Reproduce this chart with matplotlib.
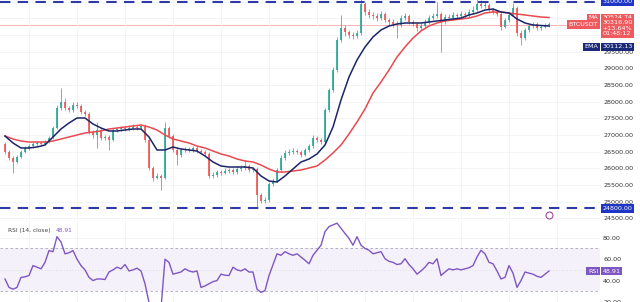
import numpy as np
import matplotlib
matplotlib.use("Agg")
import matplotlib.pyplot as plt
import matplotlib.transforms as mtrans

# BTC/USDT daily candles
first_open = 26740
closes = [26494, 26314, 26194, 26344, 26494, 26614, 26674, 26734, 26764, 26734,
          26794, 26914, 27214, 27814, 27994, 27814, 27754, 27904, 27874, 27694,
          27634, 27094, 27004, 27154, 26914, 26944, 26854, 27154, 27184, 27214,
          27184, 27214, 27244, 27214, 27274, 26854, 26014, 25714, 25774, 25714,
          27214, 26974, 26554, 26404, 26554, 26584, 26554, 26614, 26524, 26494,
          26434, 25774, 25804, 25894, 25864, 25924, 25954, 25894, 25984, 26014,
          26074, 25954, 25984, 25204, 25024, 25054, 25534, 25624, 25954, 26314,
          26464, 26494, 26524, 26494, 26404, 26554, 26674, 26914, 26854, 26794,
          27754, 28354, 28954, 29854, 30214, 30094, 30004, 29974, 30064, 30934,
          30694, 30604, 30574, 30514, 30634, 30454, 30394, 30334, 30304, 30514,
          30574, 30394, 30334, 30214, 30274, 30394, 30514, 30574, 30634, 30394,
          30544, 30514, 30604, 30574, 30634, 30604, 30694, 30754, 30934, 30874,
          30904, 30754, 30694, 30634, 30244, 30454, 30604, 30814, 30064, 29914,
          30154, 30274, 30334, 30214, 30244, 30304, 30317]
highs = [26800, 26540, 26360, 26400, 26560, 26660, 26740, 26800, 26830, 26820,
         26860, 26980, 27280, 27900, 28414, 28100, 27880, 27990, 28000, 27940,
         27760, 27680, 27160, 27400, 27200, 27010, 27000, 27220, 27250, 27280,
         27270, 27290, 27320, 27300, 27340, 27320, 26900, 26060, 25850, 25820,
         27394, 27260, 27020, 26600, 26620, 26650, 26640, 26680, 26680, 26580,
         26540, 26480, 25880, 25960, 25950, 26000, 26020, 26010, 26060, 26090,
         26254, 26120, 26050, 26030, 25260, 25140, 25600, 25700, 26020, 26400,
         26540, 26580, 26600, 26590, 26560, 26620, 26740, 27000, 26980, 26900,
         27820, 28420, 29040, 29940, 30604, 30300, 30160, 30080, 30140, 31204,
         31000, 30780, 30700, 30660, 30720, 30700, 30520, 30480, 30420, 30600,
         30660, 30640, 30460, 30400, 30360, 30480, 30600, 30660, 31000, 30700,
         30620, 30620, 30680, 30660, 30720, 30700, 30780, 30860, 31144, 31050,
         31000, 30960, 30820, 30760, 30700, 30520, 30680, 30950, 30880, 30140,
         30220, 30340, 30400, 30380, 30300, 30360, 30380]
lows = [26420, 26250, 25854, 26150, 26300, 26450, 26560, 26620, 26680, 26670,
        26690, 26760, 26880, 27180, 27760, 27740, 27680, 27700, 27800, 27640,
        27560, 27020, 26900, 26614, 26850, 26860, 26554, 26820, 27100, 27120,
        27110, 27130, 27160, 27150, 27170, 26800, 25950, 25620, 25680, 25354,
        25680, 26900, 26480, 26100, 26350, 26500, 26480, 26500, 26460, 26420,
        26380, 25700, 25720, 25750, 25800, 25820, 25870, 25830, 25840, 25930,
        25960, 25900, 25900, 24844, 24950, 24960, 25000, 25480, 25580, 25900,
        26260, 26400, 26440, 26420, 26340, 26360, 26500, 26620, 26780, 26720,
        26760, 27700, 28300, 28900, 29800, 29980, 29900, 29880, 29900, 30000,
        30600, 30500, 30480, 30420, 30450, 30380, 30300, 30240, 29914, 30250,
        30450, 30320, 30260, 30120, 30140, 30220, 30340, 30440, 30500, 29494,
        30320, 30440, 30450, 30500, 30500, 30520, 30540, 30640, 30700, 30800,
        30800, 30680, 30620, 30560, 30150, 30200, 30400, 30560, 29980, 29700,
        29860, 30100, 30200, 30150, 30160, 30200, 30240]

# 20-day EMA and 50-day SMA, one value every second candle
ema20 = [26974, 26764, 26614, 26614, 26644, 26704, 26944, 27184, 27364, 27514,
         27514, 27334, 27214, 27124, 27124, 27154, 27184, 27184, 26944, 26554,
         26554, 26644, 26584, 26554, 26524, 26374, 26194, 26074, 26044, 26044,
         26044, 26014, 25774, 25624, 25594, 25774, 25984, 26194, 26284, 26434,
         26704, 27244, 28054, 28744, 29254, 29644, 29944, 30154, 30274, 30334,
         30364, 30364, 30364, 30394, 30424, 30454, 30484, 30514, 30604, 30664,
         30754, 30784, 30694, 30664, 30484, 30364, 30304, 30289, 30274]
sma50 = [26974, 26884, 26824, 26794, 26794, 26794, 26824, 26884, 26944, 27004,
         27064, 27094, 27124, 27184, 27214, 27244, 27274, 27304, 27244, 27154,
         27004, 26884, 26824, 26764, 26674, 26614, 26524, 26434, 26374, 26284,
         26224, 26194, 26104, 25984, 25894, 25894, 25924, 25954, 26014, 26074,
         26254, 26464, 26704, 27034, 27394, 27784, 28264, 28594, 28954, 29344,
         29644, 29914, 30124, 30274, 30364, 30424, 30454, 30484, 30514, 30574,
         30664, 30694, 30694, 30664, 30634, 30604, 30574, 30544, 30529]

# RSI(14)
rsi14 = [41.5, 33.6, 32, 33.6, 43, 43.5, 44.7, 54, 52.5, 51,
         57, 68, 67, 81, 76, 65, 66, 68, 60, 54,
         50, 43, 40, 41.5, 41.5, 41, 48, 50, 52.5, 51,
         55, 49, 50, 51.6, 49, 37, 19.5, 13, 15, 14,
         60, 57, 46, 47, 48, 51, 49, 48, 49, 33.6,
         35, 37, 39, 40, 46, 45, 44.7, 52.5, 50, 49,
         51, 48, 48, 32, 29, 30.6, 44.7, 55, 65, 63.6,
         67, 65, 63.6, 65, 62, 59, 55.7, 63.6, 68.3, 73,
         85.7, 90.4, 92, 93.6, 88.8, 84, 79.4, 73, 81, 73,
         70, 68.3, 65, 66, 67, 60.4, 58, 57, 55, 55.7,
         60.4, 55, 51, 46, 49, 52.5, 57, 55.7, 60.4, 44.7,
         48, 51, 50, 51, 50, 51, 52, 54, 62, 68.3,
         65, 57, 55.7, 49, 41.5, 43, 54, 47, 33.6, 40,
         48, 47, 46, 44, 43, 46, 48.91]

resistance = 31000
support = 24800
price_ticks = list(range(24500, 31001, 500))
hidden_ticks = [30000, 30500, 31000]   # sit behind the scale labels
rsi_ticks = [20, 40, 60, 80]
sma_label = 30524.74
ema_label = 30112.13
last_label = 30316.90
change_label = "+13.64%"
timer_label = "01:48:12"
rsi_label = 48.91
event_idx = 136
event_price = 24600

up_col = "#26a69a"
dn_col = "#ef5350"
ema_col = "#1b2568"
sma_col = "#e84a4f"
line_col = "#2e3aa6"
rsi_col = "#7e57c2"

opens = np.array([first_open] + closes[:-1])
c = np.array(closes)
idx = np.arange(len(c))
ma_idx = idx[::2]

fig = plt.figure(figsize=(6.4, 3.02), dpi=100)
ax = fig.add_axes([0, 82 / 302, 600 / 640, 220 / 302])
ax2 = fig.add_axes([0, 0, 600 / 640, 80 / 302], sharex=ax)

# candles
cols = np.where(c >= opens, up_col, dn_col)
ax.vlines(idx, lows, highs, colors=cols, linewidth=0.6, alpha=0.85, zorder=2)
body_lo = np.minimum(opens, c)
body_h = np.maximum(np.abs(c - opens), 18)
ax.bar(idx, body_h, bottom=body_lo, width=0.62, color=cols, linewidth=0, alpha=0.85, zorder=2)

ax.plot(ma_idx, sma50, color=sma_col, lw=1.1, zorder=3)
ax.plot(ma_idx, ema20, color=ema_col, lw=1.1, zorder=3)

ax.axhline(c[-1], color="#f5a8a8", lw=0.6, zorder=1)
ax.axhline(resistance, color=line_col, lw=1.5, ls=(0, (5, 3.5)), zorder=4)
ax.axhline(support, color=line_col, lw=1.5, ls=(0, (5, 3.5)), zorder=4)
ax.plot(event_idx, event_price, "o", ms=5, mfc="white", mec="#a546a6", mew=0.8, zorder=5)

ax.set_xlim(-1.25, 148.75)
ax.set_ylim(24454, 31054)
ax.set_xticks(np.arange(6, 149, 12))
ax.set_yticks(price_ticks)
ax.set_yticklabels(["" if t in hidden_ticks else "%.2f" % t for t in price_ticks])
ax.yaxis.tick_right()
ax.tick_params(axis="y", length=0, pad=2.2, labelsize=4.6, labelcolor="#333333")
ax.tick_params(axis="x", length=0, labelbottom=False)
ax.grid(color="#f1f2f6", lw=0.6, zorder=0)
for s in ax.spines.values():
    s.set_visible(False)

# price scale labels
tr = mtrans.blended_transform_factory(ax.transAxes, ax.transData)
box = dict(boxstyle="square,pad=0.25", ec="none")
kw = dict(transform=tr, fontsize=4.6, color="white", va="center", clip_on=False, zorder=6)
ax.text(1.004, resistance, "%.2f" % resistance, ha="left", bbox=dict(box, fc="#1f35c6"), **kw)
ax.text(1.004, support, "%.2f" % support, ha="left", bbox=dict(box, fc="#1f35c6"), **kw)
ax.text(0.997, sma_label, "MA", ha="right", bbox=dict(box, fc="#ef5a5f"), **kw)
ax.text(1.004, sma_label, "%.2f" % sma_label, ha="left", bbox=dict(box, fc="#ef5a5f"), **kw)
ax.text(0.997, last_label, "BTCUSDT", ha="right", bbox=dict(box, fc="#ef5a5f"), **kw)
ax.annotate("%.2f\n%s\n%s" % (last_label, change_label, timer_label), xy=(1.004, last_label),
            xycoords=tr, xytext=(0, 3.3), textcoords="offset points", ha="left", va="top",
            fontsize=4.6, color="white", linespacing=1.15, annotation_clip=False,
            bbox=dict(box, fc="#ef5a5f"), zorder=6)
ax.annotate("EMA", xy=(0.997, ema20[-1]), xycoords=tr, xytext=(0, -15), textcoords="offset points",
            ha="right", va="center", fontsize=4.6, color="white", annotation_clip=False,
            bbox=dict(box, fc="#1b2a78"), zorder=6)
ax.annotate("%.2f" % ema_label, xy=(1.004, ema20[-1]), xycoords=tr, xytext=(0, -15),
            textcoords="offset points", ha="left", va="center", fontsize=4.6, color="white",
            annotation_clip=False, bbox=dict(box, fc="#1b2a78"), zorder=6)

# RSI panel
ax2.axhspan(30, 70, color=rsi_col, alpha=0.08, lw=0)
ax2.axhline(70, color="#a8a8b8", lw=0.6, ls=(0, (3, 3)))
ax2.axhline(30, color="#a8a8b8", lw=0.6, ls=(0, (3, 3)))
ax2.axhline(50, color="#c9c9d6", lw=0.5, ls=(0, (1, 3)))
ax2.plot(idx, rsi14, color=rsi_col, lw=1.0)
ax2.set_ylim(20.5, 94.7)
ax2.set_yticks(rsi_ticks)
ax2.set_yticklabels(["%.2f" % t for t in rsi_ticks])
ax2.yaxis.tick_right()
ax2.tick_params(axis="y", length=0, pad=2.2, labelsize=4.6, labelcolor="#333333")
ax2.tick_params(axis="x", length=0, labelbottom=False)
ax2.grid(color="#f1f2f6", lw=0.6, zorder=0)
for s in ax2.spines.values():
    s.set_visible(False)

ax2.text(0.013, 0.89, "RSI (14, close)", transform=ax2.transAxes, fontsize=4.2,
         color="#444444", va="center")
ax2.text(0.093, 0.89, "%.2f" % rsi_label, transform=ax2.transAxes, fontsize=4.2,
         color=rsi_col, va="center")
tr2 = mtrans.blended_transform_factory(ax2.transAxes, ax2.transData)
kw2 = dict(transform=tr2, fontsize=4.6, color="white", va="center", clip_on=False, zorder=6)
ax2.text(0.997, rsi_label, "RSI", ha="right", bbox=dict(box, fc=rsi_col), **kw2)
ax2.text(1.004, rsi_label, "%.2f" % rsi_label, ha="left", bbox=dict(box, fc=rsi_col), **kw2)

fig.savefig("out.png", dpi=100)
